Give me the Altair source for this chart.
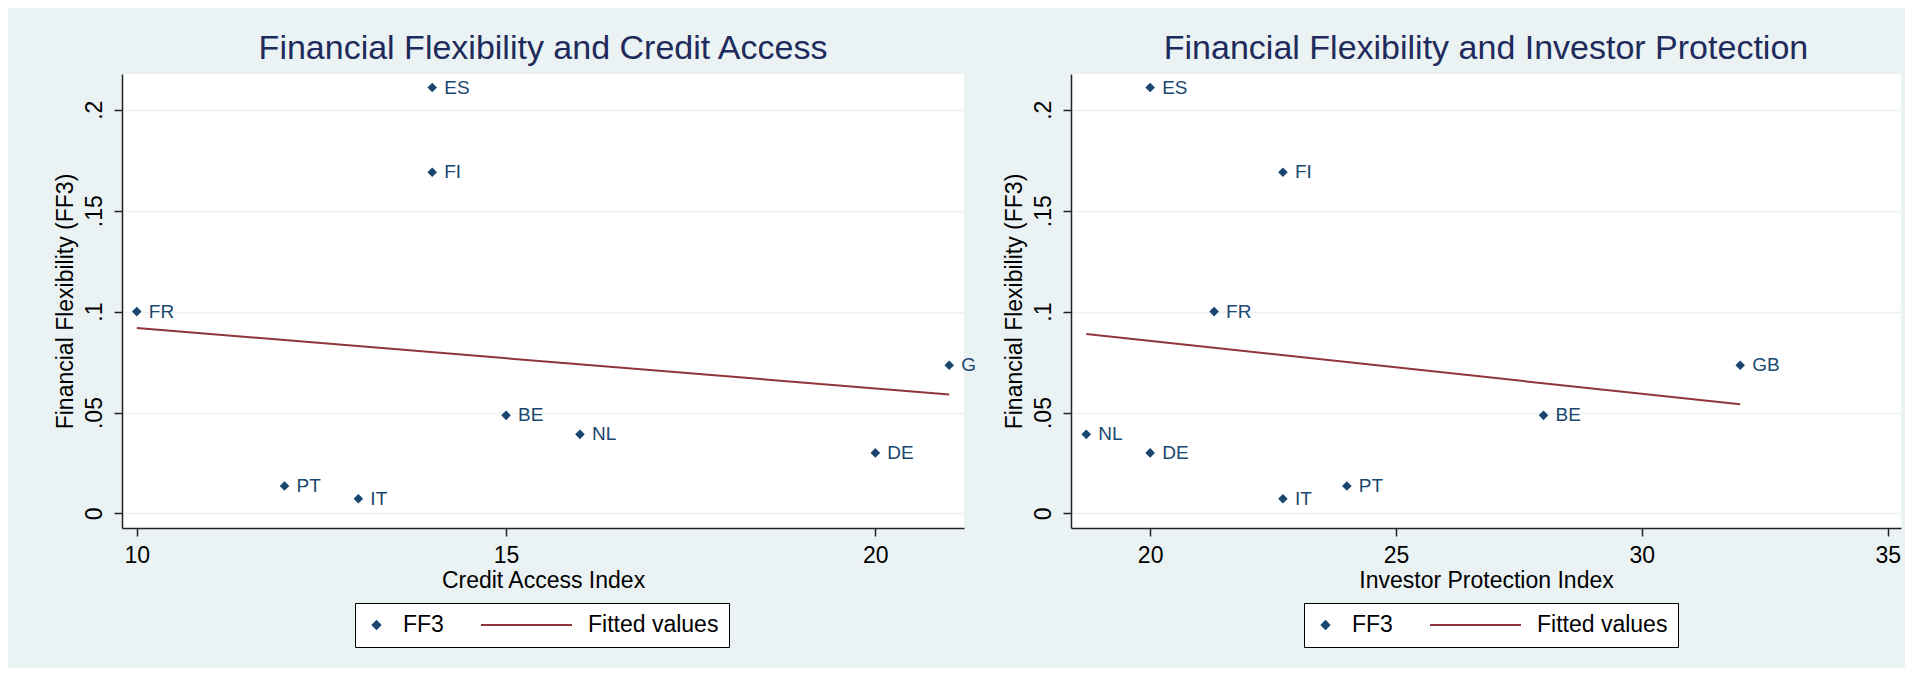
import altair as alt
import pandas as pd

# ---- data ----
countries = ["ES", "FI", "FR", "GB", "BE", "NL", "DE", "PT", "IT"]
ff3 = [0.211, 0.169, 0.100, 0.0734, 0.0486, 0.0392, 0.030, 0.0136, 0.0073]
credit_access = [14, 14, 10, 21, 15, 16, 20, 12, 13]
investor_protection = [20, 22.7, 21.3, 32, 28, 18.7, 20, 24, 22.7]

series_names = ["FF3", "Fitted values"]
panel_titles = ["Financial Flexibility and Credit Access",
                "Financial Flexibility and Investor Protection"]
x_titles = ["Credit Access Index", "Investor Protection Index"]
y_title = "Financial Flexibility (FF3)"
x_ticks_left = [10, 15, 20]
x_ticks_right = [20, 25, 30, 35]
y_ticks = [0, 0.05, 0.1, 0.15, 0.2]

NAVY = "#1a476f"
MAROON = "#90353b"
BG = "#eaf2f3"
FONT = "Liberation Sans"

df = pd.DataFrame({
    "country": countries,
    "ff3": ff3,
    "credit": credit_access,
    "investor": investor_protection,
    "series": ["FF3"] * len(countries),
})


def make_panel(xfield, xtitle, title, xdomain, xticks, width, clip_country=None):
    base = alt.Chart(df)
    x = alt.X(f"{xfield}:Q",
              scale=alt.Scale(domain=xdomain, nice=False, zero=False),
              axis=alt.Axis(values=xticks, title=xtitle, grid=False,
                            labelFlush=False, labelPadding=8, titlePadding=2))
    y = alt.Y("ff3:Q",
              scale=alt.Scale(domain=[-0.0072, 0.2177], nice=False, zero=False),
              axis=alt.Axis(values=y_ticks, title=y_title, grid=True,
                            labelExpr="datum.value === 0 ? '0' : substring(format(datum.value, '.2~f'), 1)",
                            labelAngle=270, labelAlign="center", labelBaseline="bottom",
                            labelPadding=8, labelFlush=False, titlePadding=6))

    leg = alt.Legend(title=None, orient="none", legendX=233, legendY=529,
                     direction="horizontal", fillColor="white", strokeColor="black",
                     padding=10, labelFontSize=23, labelFont=FONT, labelColor="black",
                     symbolStrokeWidth=2, labelOffset=15, columnPadding=36,
                     labelLimit=0, clipHeight=24)
    dom = series_names
    points = base.mark_point(filled=True, opacity=1, strokeWidth=1.5).encode(
        x=x, y=y,
        color=alt.Color("series:N", scale=alt.Scale(domain=dom, range=[NAVY, MAROON]), legend=leg),
        stroke=alt.Stroke("series:N", scale=alt.Scale(domain=dom, range=[NAVY, MAROON]), legend=leg),
        shape=alt.Shape("series:N", scale=alt.Scale(domain=dom, range=["diamond", "stroke"]), legend=leg),
        size=alt.Size("series:N", scale=alt.Scale(domain=dom, range=[56, 8281]), legend=leg),
    )
    fit = base.transform_regression(xfield, "ff3").mark_line(
        color=MAROON, strokeWidth=2).encode(x=x, y=y)

    lbl = dict(align="left", baseline="middle", dx=12, fontSize=19, font=FONT, color=NAVY)
    if clip_country is None:
        labels = base.mark_text(**lbl).encode(x=x, y=y, text="country:N")
        layers = [fit, points, labels]
    else:
        labels = base.transform_filter(alt.datum.country != clip_country).mark_text(**lbl).encode(
            x=x, y=y, text="country:N")
        # the reference cuts this label at the panel edge, leaving only its first letter
        cut = base.transform_filter(alt.datum.country == clip_country).mark_text(
            limit=16, ellipsis="\u200b", **lbl).encode(x=x, y=y, text="country:N")
        layers = [fit, points, labels, cut]

    return alt.layer(*layers).properties(
        width=width, height=454,
        title=alt.TitleParams(title, fontSize=34, font=FONT, color="#1e2b5c",
                              fontWeight="normal", offset=8),
    )


left = make_panel("credit", x_titles[0], panel_titles[0], [9.80, 21.20], x_ticks_left, 842,
                  clip_country="GB")
right = make_panel("investor", x_titles[1], panel_titles[1], [18.39, 35.27], x_ticks_right, 830)

chart = alt.hconcat(left, right, spacing=26).resolve_scale(
    x="independent", y="independent", color="independent", stroke="independent",
    shape="independent", size="independent"
).resolve_legend(
    color="independent", stroke="independent", shape="independent", size="independent"
).configure(
    background=BG,
    padding={"left": 46, "top": 24, "right": 4, "bottom": 20},
    font=FONT,
).configure_view(
    fill="white", stroke="white", strokeWidth=0
).configure_axis(
    domainColor="#222222", domainWidth=1.5,
    tickColor="#222222", tickWidth=1.5, tickSize=8,
    labelColor="black", labelFontSize=23, labelFont=FONT,
    titleColor="black", titleFontSize=23, titleFont=FONT, titleFontWeight="normal",
    gridColor=BG, gridWidth=1.5,
)

chart.save("out.html", embed_options={"renderer": "svg", "actions": False})
